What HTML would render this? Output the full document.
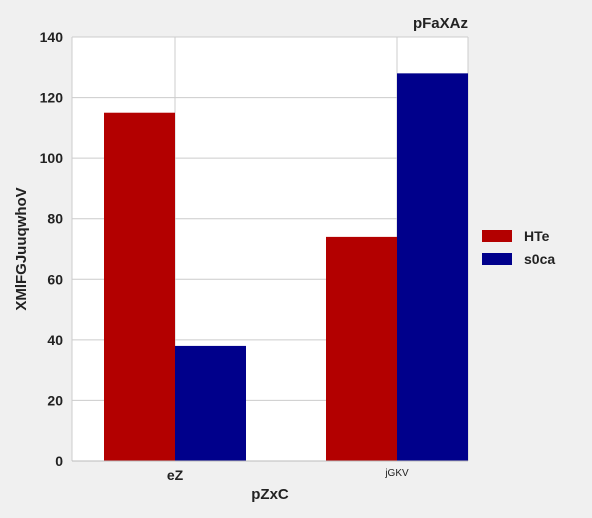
<!DOCTYPE html>
<html><head><meta charset="utf-8">
<style>
body{margin:0;background:#f0f0f0;font-family:"Liberation Sans",Arial,sans-serif;}
svg{display:block}
</style></head>
<body>
<svg id="chart" width="592" height="518" xmlns="http://www.w3.org/2000/svg">
<rect x="0" y="0" width="592" height="518" fill="#f0f0f0"/>
<rect x="72" y="37" width="396" height="424" fill="#ffffff"/>
<g id="grid"></g>
<g id="bars"></g>
<line x1="72" y1="461" x2="468" y2="461" stroke="#bbbbbb" stroke-width="1"/>
<g id="yticks"></g>
<g id="xticks"></g>
<text x="468" y="28" text-anchor="end" font-size="15" font-weight="bold" fill="#222">pFaXAz</text>
<text x="270" y="499" text-anchor="middle" font-size="15" font-weight="bold" fill="#222">pZxC</text>
<text transform="translate(26,249) rotate(-90)" text-anchor="middle" font-size="15" font-weight="bold" fill="#222">XMlFGJuuqwhoV</text>
<g id="legend"></g>
</svg>
<script>
const categories = ["eZ", "jGKV"];
const seriesNames = ["HTe", "s0ca"];
const seriesHTe = [115, 74];
const seriesS0ca = [38, 128];
const yTicks = [0, 20, 40, 60, 80, 100, 120, 140];

const NS = "http://www.w3.org/2000/svg";
const colors = ["#b30000", "#00008b"];
const plotTop = 37, plotBottom = 461, yMax = 140;
function yScale(v){ return plotBottom - (v / yMax) * (plotBottom - plotTop); }
function xScale(i){ return 175 + i * 222; }
const barW = 71;
function mk(tag, attrs, parent){ const e = document.createElementNS(NS, tag); for (const k in attrs) e.setAttribute(k, attrs[k]); parent.appendChild(e); return e; }

const grid = document.getElementById("grid");
const yt = document.getElementById("yticks");
yTicks.forEach(t => {
  const y = yScale(t);
  const l = mk("line", {x1:72, x2:468, y1:y, y2:y, stroke:"#cccccc", "stroke-width":1}, grid);
  
  
  const tx = mk("text", {x:63, y:y+5, "text-anchor":"end", "font-size":14, "font-weight":"bold", fill:"#222"}, yt);
  tx.textContent = t;
  
  
});
mk("line", {x1:72, x2:72, y1:37, y2:461, stroke:"#cccccc"}, grid);
mk("line", {x1:468, x2:468, y1:37, y2:461, stroke:"#cccccc"}, grid);
categories.forEach((c, i) => {
  const x = xScale(i);
  const l = mk("line", {x1:x, x2:x, y1:37, y2:461, stroke:"#cccccc", "stroke-width":1}, grid);
  
  
});

const bars = document.getElementById("bars");
const allSeries = [seriesHTe, seriesS0ca];
allSeries.forEach((s, si) => {
  s.forEach((v, i) => {
    const x = xScale(i) + (si === 0 ? -barW : 0);
    const r = mk("rect", {x:x, y:yScale(v), width:barW, height:plotBottom - yScale(v), fill:colors[si]}, bars);
    
    
  });
});

const xt = document.getElementById("xticks");
categories.forEach((c, i) => {
  const bold = i === 0;
  const tx = mk("text", {x:xScale(i), y: bold ? 480 : 476, "text-anchor":"middle", "font-size": bold ? 14 : 10, "font-weight": bold ? "bold" : "normal", fill:"#222"}, xt);
  tx.textContent = c;
  
  
});

const lg = document.getElementById("legend");
seriesNames.forEach((n, i) => {
  const y = 230 + i * 23;
  const r = mk("rect", {x:482, y:y, width:30, height:12, fill:colors[i]}, lg);
  
  
  const t = mk("text", {x:524, y:y+11, "font-size":14, "font-weight":"bold", fill:"#222"}, lg);
  t.textContent = n;
  
  
});
</script>
</body></html>
